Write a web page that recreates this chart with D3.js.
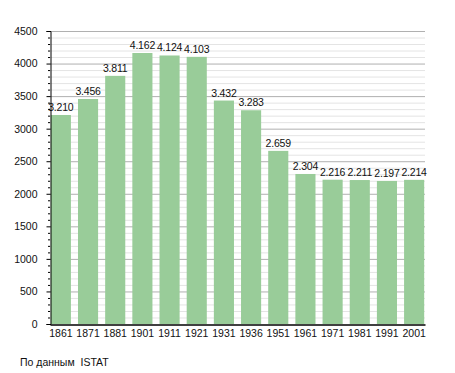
<!DOCTYPE html>
<html>
<head>
<meta charset="utf-8">
<script src="https://cdn.jsdelivr.net/npm/d3@7"></script>
<style>
  body { margin: 0; background: #fff; }
  text { font-family: "Liberation Sans", Arial, sans-serif; }
</style>
</head>
<body>
<svg id="chart" width="455" height="373"></svg>
<script>
const years = ["1861", "1871", "1881", "1901", "1911", "1921", "1931", "1936", "1951", "1961", "1971", "1981", "1991", "2001"];
const population = [3210, 3456, 3811, 4162, 4124, 4103, 3432, 3283, 2659, 2304, 2216, 2211, 2197, 2214];
const valueLabels = ["3.210", "3.456", "3.811", "4.162", "4.124", "4.103", "3.432", "3.283", "2.659", "2.304", "2.216", "2.211", "2.197", "2.214"];
const yTicks = [0, 500, 1000, 1500, 2000, 2500, 3000, 3500, 4000, 4500];

const svg = d3.select("#chart");
const m = { left: 50, right: 425, top: 31, bottom: 324 };
const fs = 10.5;

const x = d3.scaleBand().domain(years).range([m.left, m.right]).paddingInner(0.26).paddingOuter(0.03);
const y = d3.scaleLinear().domain([0, 4500]).range([m.bottom, m.top]);

// minor grid (every 100)
const minor = d3.range(0, 4501, 100).filter(v => v % 500 !== 0);
svg.append("g").selectAll("line").data(minor).enter().append("line")
  .attr("x1", m.left).attr("x2", m.right)
  .attr("y1", d => y(d) + 0.5).attr("y2", d => y(d) + 0.5)
  .attr("stroke", "#e4e4e4").attr("stroke-width", 1);

// major grid
svg.append("g").selectAll("line").data(yTicks.filter(v => v > 0)).enter().append("line")
  .attr("x1", m.left).attr("x2", m.right)
  .attr("y1", d => y(d) + 0.5).attr("y2", d => y(d) + 0.5)
  .attr("stroke", "#b0b0b0").attr("stroke-width", 1);

// bars
svg.append("g").selectAll("rect").data(population).enter().append("rect")
  .attr("x", (d, i) => x(years[i]))
  .attr("y", d => y(d))
  .attr("width", x.bandwidth())
  .attr("height", d => m.bottom - y(d))
  .attr("fill", "#99cc99");

// value labels
svg.append("g").selectAll("text").data(population).enter().append("text")
  .attr("x", (d, i) => x(years[i]) + x.bandwidth() / 2)
  .attr("y", d => y(d) - 4)
  .attr("text-anchor", "middle")
  .attr("font-size", fs)
  .attr("letter-spacing", -0.2)
  .attr("fill", "#111")
  .text((d, i) => valueLabels[i]);

// y axis
const yAxis = d3.axisLeft(y).tickValues(yTicks).tickSize(4).tickPadding(9).tickFormat(d3.format("d"));
const yg = svg.append("g").attr("transform", `translate(${m.left + 0.5},0)`).call(yAxis);
yg.select(".domain").attr("stroke", "#000");
yg.selectAll("text").attr("font-size", fs).attr("fill", "#111").attr("font-family", "Liberation Sans, Arial, sans-serif");
// minor y ticks
svg.append("g").selectAll("line").data(minor).enter().append("line")
  .attr("x1", m.left - 2).attr("x2", m.left)
  .attr("y1", d => y(d) + 0.5).attr("y2", d => y(d) + 0.5)
  .attr("stroke", "#000");

// x axis
const xAxis = d3.axisBottom(x).tickSize(0).tickPadding(5);
const xg = svg.append("g").attr("transform", `translate(0,${m.bottom + 0.5})`).call(xAxis);
xg.select(".domain").attr("stroke", "#000").attr("stroke-width", 1.5);
xg.selectAll("text").attr("font-size", fs).attr("fill", "#111").attr("font-family", "Liberation Sans, Arial, sans-serif");

// source note
svg.append("text")
  .attr("x", 20).attr("y", 366)
  .attr("font-size", fs)
  .attr("fill", "#111")
  .attr("xml:space", "preserve")
  .text("По данным  ISTAT");
</script>
</body>
</html>
